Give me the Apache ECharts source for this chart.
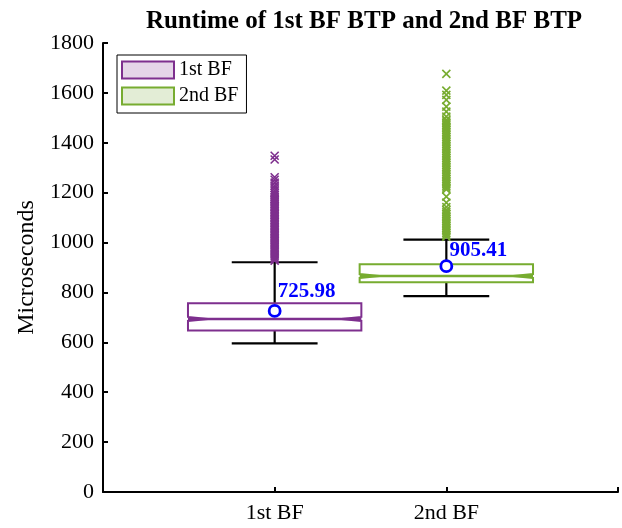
<!DOCTYPE html>
<html>
<head>
<meta charset="utf-8">
<script src="https://cdn.jsdelivr.net/npm/echarts@6/dist/echarts.min.js"></script>
<style>html,body{margin:0;padding:0;background:#fff}#c{width:622px;height:528px}</style>
</head>
<body>
<div id="c"></div>
<script>
var categories = ['1st BF', '2nd BF'];
var whiskerLow = [596, 785];
var q1 = [647, 841];
var median = [694, 866];
var q3 = [757, 913];
var whiskerHigh = [921, 1012];
var means = [725.98, 905.41];
var outliers1 = [1348, 1333, 1262, 1252, 1240, 1228, 1218, 1208, 1198, 1190, 1182, 1175,
  1172, 1166, 1160, 1153, 1147, 1141, 1134, 1128, 1121, 1115, 1109, 1102, 1096, 1090, 1083,
  1077, 1071, 1064, 1058, 1052, 1045, 1039, 1033, 1026, 1020, 1014, 1008, 1001, 995, 989,
  982, 976, 970, 964, 957, 951, 945, 939, 933, 927];
var outliers2 = [1676, 1609, 1592, 1572, 1545, 1525, 1505, 1492,
  1486, 1479, 1472, 1465, 1458, 1451, 1444, 1437, 1430, 1423, 1416, 1409, 1402, 1395, 1388,
  1381, 1374, 1367, 1360, 1353, 1346, 1339, 1332, 1325, 1318, 1311, 1304, 1297, 1290, 1283,
  1276, 1269, 1262, 1255, 1248, 1241, 1234, 1227, 1220, 1213,
  1184, 1160, 1142, 1130, 1122, 1115, 1108, 1101, 1094, 1087, 1080, 1073, 1066, 1059, 1052,
  1045, 1038, 1031, 1024];
var yTicks = [0, 1800, 200];

var colors = ['#7e2f8e', '#77ac30'];
var lightColors = ['#e5d5e8', '#e3edd6'];
var labelOffsets = [[10, -2], [10, 2]];
var FONT = 'Liberation Serif';

function boxRender(params, api) {
  var xv = api.value(0);
  var wl = api.coord([xv, api.value(1)]);
  var b1 = api.coord([xv, api.value(2)]);
  var md = api.coord([xv, api.value(3)]);
  var b3 = api.coord([xv, api.value(4)]);
  var wh = api.coord([xv, api.value(5)]);
  var unit = api.size([1, 0])[0];
  var hw = unit * 0.505;
  var cw = unit * 0.25;
  var cx = md[0];
  var L = cx - hw, R = cx + hw;
  var nd = 20, nh = 2;
  var col = api.visual('color');
  var blk = {stroke: '#000', lineWidth: 2.2, fill: null};
  return {
    type: 'group',
    children: [
      {type: 'line', shape: {x1: cx, y1: b3[1], x2: cx, y2: wh[1]}, style: blk},
      {type: 'line', shape: {x1: cx, y1: b1[1], x2: cx, y2: wl[1]}, style: blk},
      {type: 'line', shape: {x1: cx - cw, y1: wh[1], x2: cx + cw, y2: wh[1]}, style: blk},
      {type: 'line', shape: {x1: cx - cw, y1: wl[1], x2: cx + cw, y2: wl[1]}, style: blk},
      {type: 'polygon', shape: {points: [
        [L, b3[1]], [R, b3[1]], [R, md[1] - nh], [R - nd, md[1]], [R, md[1] + nh],
        [R, b1[1]], [L, b1[1]], [L, md[1] + nh], [L + nd, md[1]], [L, md[1] - nh]
      ]}, style: {stroke: col, lineWidth: 2, fill: 'rgba(255,255,255,0)'}},
      {type: 'line', shape: {x1: L, y1: md[1], x2: R, y2: md[1]}, style: {stroke: col, lineWidth: 2.5}}
    ]
  };
}

var xSym = 'path://M0,0L10,10M10,0L0,10';

var series = [];
for (var i = 0; i < categories.length; i++) {
  series.push({
    name: categories[i], type: 'custom', renderItem: boxRender,
    itemStyle: {color: colors[i]},
    encode: {x: 0, y: [1, 2, 3, 4, 5]},
    data: [[i + 1, whiskerLow[i], q1[i], median[i], q3[i], whiskerHigh[i]]],
    z: 2
  });
}
var outs = [outliers1, outliers2];
for (var j = 0; j < outs.length; j++) {
  series.push({
    name: categories[j], type: 'scatter', symbol: xSym, symbolSize: 8,
    itemStyle: {color: 'rgba(0,0,0,0)', borderColor: colors[j], borderWidth: 1.6, opacity: 1},
    data: outs[j].map(function (v) { return [j + 1, v]; }),
    z: 3, silent: true
  });
}
series.push({
  name: 'mean', type: 'scatter', symbol: 'circle', symbolSize: 11,
  itemStyle: {color: '#fff', borderColor: '#0000ff', borderWidth: 2.8, opacity: 1},
  data: means.map(function (m, k) {
    return {value: [k + 1, m], label: {position: labelOffsets[k]}};
  }),
  label: {
    show: true, align: 'left', verticalAlign: 'bottom',
    formatter: function (p) { return p.value[1].toFixed(2); },
    color: '#0000ff', fontWeight: 'bold', fontSize: 21, fontFamily: FONT
  },
  z: 5
});

var chart = echarts.init(document.getElementById('c'), null, {renderer: 'canvas'});
chart.setOption({
  animation: false,
  title: {
    text: 'Runtime of 1st BF BTP and 2nd BF BTP', left: 359, top: 4, textAlign: 'center',
    textStyle: {fontFamily: FONT, fontWeight: 'bold', fontSize: 25, color: '#000'}
  },
  legend: {
    orient: 'vertical', left: 117, top: 55,
    padding: [5, 8, 7, 4], itemGap: 6, itemWidth: 52, itemHeight: 17,
    borderColor: '#000', borderWidth: 1, backgroundColor: '#fff',
    textStyle: {fontFamily: FONT, fontSize: 20, color: '#000'},
    data: [
      {name: categories[0], icon: 'rect', itemStyle: {color: lightColors[0], borderColor: colors[0], borderWidth: 2}},
      {name: categories[1], icon: 'rect', itemStyle: {color: lightColors[1], borderColor: colors[1], borderWidth: 2}}
    ]
  },
  grid: {left: 103, right: 4, top: 43, bottom: 36},
  xAxis: {
    type: 'value', min: 0, max: 3, interval: 1,
    axisLine: {lineStyle: {color: '#000', width: 2}},
    axisTick: {inside: true, length: 5, lineStyle: {color: '#000', width: 2}},
    splitLine: {show: false},
    axisLabel: {
      fontFamily: FONT, fontSize: 22, color: '#000', margin: 10,
      formatter: function (v) { return (v >= 1 && v <= categories.length) ? categories[v - 1] : ''; }
    }
  },
  yAxis: {
    type: 'value', min: yTicks[0], max: yTicks[1], interval: yTicks[2],
    name: 'Microseconds', nameLocation: 'middle', nameGap: 48,
    nameTextStyle: {fontFamily: FONT, fontSize: 24, color: '#000'},
    axisLine: {show: true, lineStyle: {color: '#000', width: 2}},
    axisTick: {show: true, inside: true, length: 5, lineStyle: {color: '#000', width: 2}},
    splitLine: {show: false},
    axisLabel: {fontFamily: FONT, fontSize: 22, color: '#000', margin: 9,
      formatter: function (v) { return String(v); }}
  },
  series: series
});
</script>
</body>
</html>
